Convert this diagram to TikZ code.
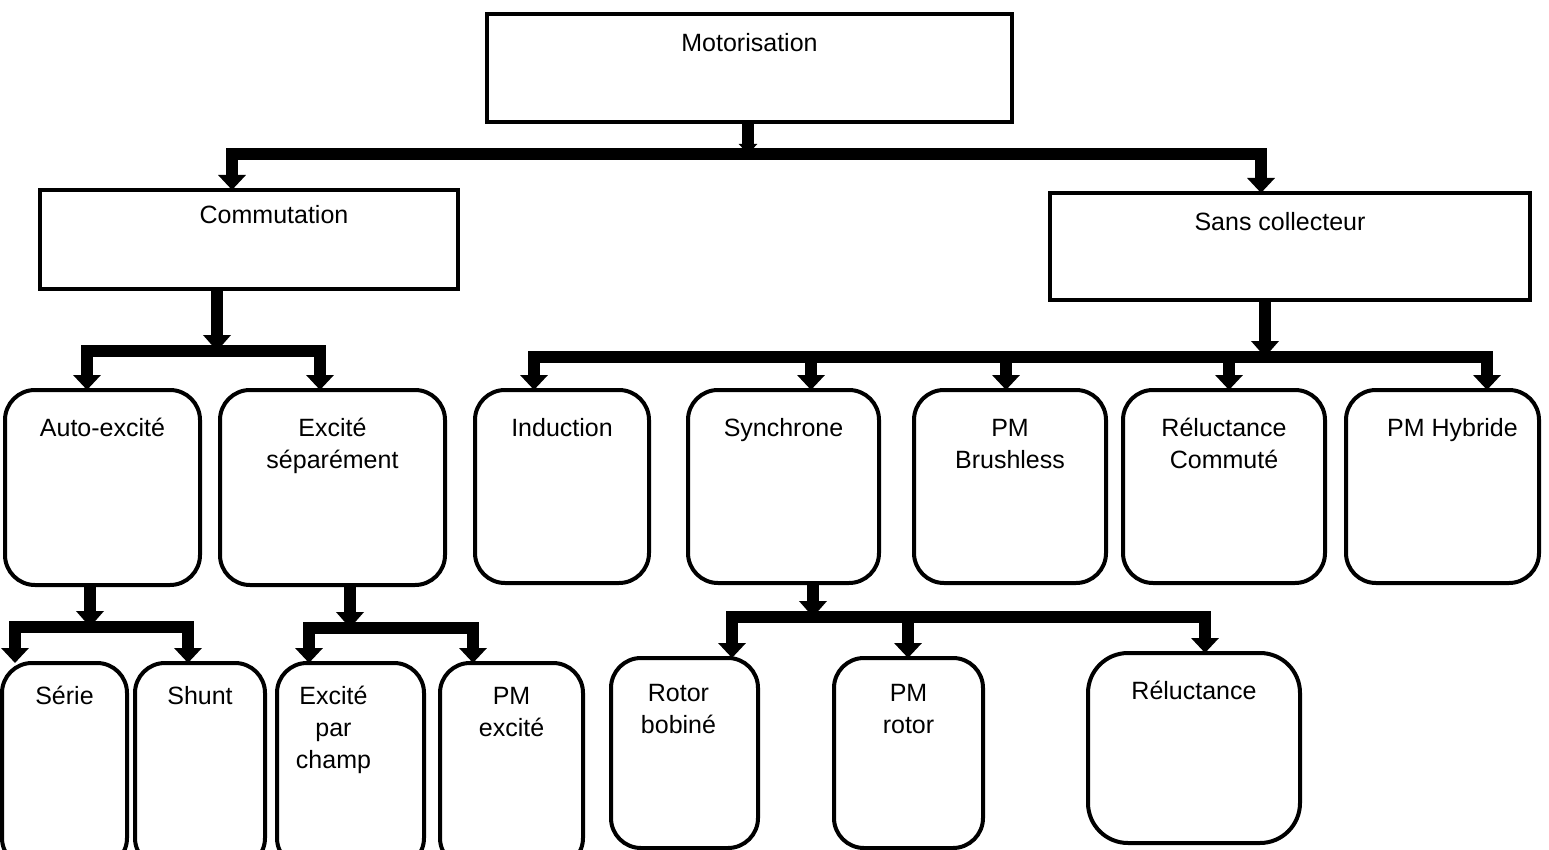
\documentclass[tikz,border=0pt]{standalone}
\usepackage{fontspec}
\setmainfont{Liberation Sans}
\usetikzlibrary{arrows.meta,calc}
% #1 width, #2 height, #3 first baseline offset, #4 horizontal text shift, #5 text
\newcommand{\bxt}[5]{\begin{minipage}[t][#2pt][t]{#1pt}\centering\advance\leftskip by #4pt\advance\rightskip by -#4pt\rule{0pt}{#3pt}#5\end{minipage}}
\begin{document}
\begin{tikzpicture}[x=1pt,y=-1pt,
  box/.style={draw,line width=4pt,inner sep=0pt,outer sep=0pt,font=\fontsize{25}{32}\selectfont},
  rbox/.style={box,rounded corners=30pt},
  conn/.style={line width=12pt,-{Triangle[width=27pt,length=15pt]}},
  feed/.style={line width=12pt,-{Triangle[width=27pt,length=16pt]}},
  smallfeed/.style={line width=12pt,-{Triangle[width=18pt,length=10pt]}}]
\useasboundingbox (0,0) rectangle (1549,850);
\clip (0,0) rectangle (1549,850);

% level 0 and 1
\node[box] (moto) at (749.5,68) {\bxt{525}{108}{38}{0}{Motorisation}};
\node[box] (comm) at (249,239.5) {\bxt{418}{99}{34}{25}{Commutation}};
\node[box] (sans) at (1290,246.5) {\bxt{480}{107}{38}{-10}{Sans collecteur}};

% level 2
\node[rbox] (auto) at (102.5,487.5) {\bxt{195}{195}{46}{0}{Auto-excité}};
\node[rbox] (exsep) at (332.5,487.5) {\bxt{225}{195}{46}{0}{Excité\\séparément}};
\node[rbox] (ind) at (562,486.5) {\bxt{174}{193}{46}{0}{Induction}};
\node[rbox] (sync) at (783.5,486.5) {\bxt{191}{193}{46}{0}{Synchrone}};
\node[rbox] (pmb) at (1010,486.5) {\bxt{192}{193}{46}{0}{PM\\Brushless}};
\node[rbox] (relc) at (1224,486.5) {\bxt{202}{193}{46}{0}{Réluctance\\Commuté}};
\node[rbox] (pmh) at (1442.5,486.5) {\bxt{193}{193}{46}{10}{PM Hybride}};

% level 3
\node[rbox] (serie) at (64.5,765.5) {\bxt{125}{205}{41}{0}{Série}};
\node[rbox] (shunt) at (200,765.5) {\bxt{130}{205}{41}{0}{Shunt}};
\node[rbox] (exch) at (350.5,765.5) {\bxt{147}{205}{41}{-17}{Excité\\par\\champ}};
\node[rbox] (pmex) at (511.5,765.5) {\bxt{143}{205}{41}{0}{PM\\excité}};
\node[rbox] (rotb) at (684.5,753) {\bxt{147}{190}{43}{-6}{Rotor\\bobiné}};
\node[rbox] (pmr) at (908.5,753) {\bxt{149}{190}{43}{0}{PM\\rotor}};
\node[rbox,rounded corners=40pt] (rel) at (1194,748) {\bxt{212}{190}{46}{0}{Réluctance}};

% junctions
\coordinate (j0) at (748,154);
\coordinate (j2) at (217,351);
\coordinate (j3) at (1265,357);
\coordinate (j4) at (90,627);
\coordinate (j5) at (350,628);
\coordinate (j6) at (813,617);

% Motorisation
\draw[smallfeed] (j0 |- moto.south) -- (j0);
\draw[conn] (j0) -| ([xshift=-17pt]comm.north);
\draw[conn] (j0) -| ([xshift=-29pt]sans.north);

% Commutation
\draw[feed] (j2 |- comm.south) -- (j2);
\draw[conn] (j2) -| ([xshift=-15.5pt]auto.north);
\draw[conn] (j2) -| ([xshift=-12.5pt]exsep.north);

% Sans collecteur
\draw[feed] (j3 |- sans.south) -- (j3);
\draw[conn] (j3) -| ([xshift=-28pt]ind.north);
\draw[conn] (j3) -| ([xshift=27.5pt]sync.north);
\draw[conn] (j3) -| ([xshift=-4pt]pmb.north);
\draw[conn] (j3) -| ([xshift=5pt]relc.north);
\draw[conn] (j3) -| ([xshift=44.5pt]pmh.north);

% Auto-excite
\draw[feed] (j4 |- auto.south) -- (j4);
\draw[conn] (j4) -| ([xshift=-49.5pt]serie.north);
\draw[conn] (j4) -| ([xshift=-12pt]shunt.north);

% Excite separement
\draw[feed] (j5 |- exsep.south) -- (j5);
\draw[conn] (j5) -| ([xshift=-41.5pt]exch.north);
\draw[conn] (j5) -| ([xshift=-38.5pt]pmex.north);

% Synchrone
\draw[feed] (j6 |- sync.south) -- (j6);
\draw[conn] (j6) -| ([xshift=47.5pt]rotb.north);
\draw[conn] (j6) -| ([xshift=-0.5pt]pmr.north);
\draw[conn] (j6) -| ([xshift=11pt]rel.north);
\end{tikzpicture}
\end{document}
